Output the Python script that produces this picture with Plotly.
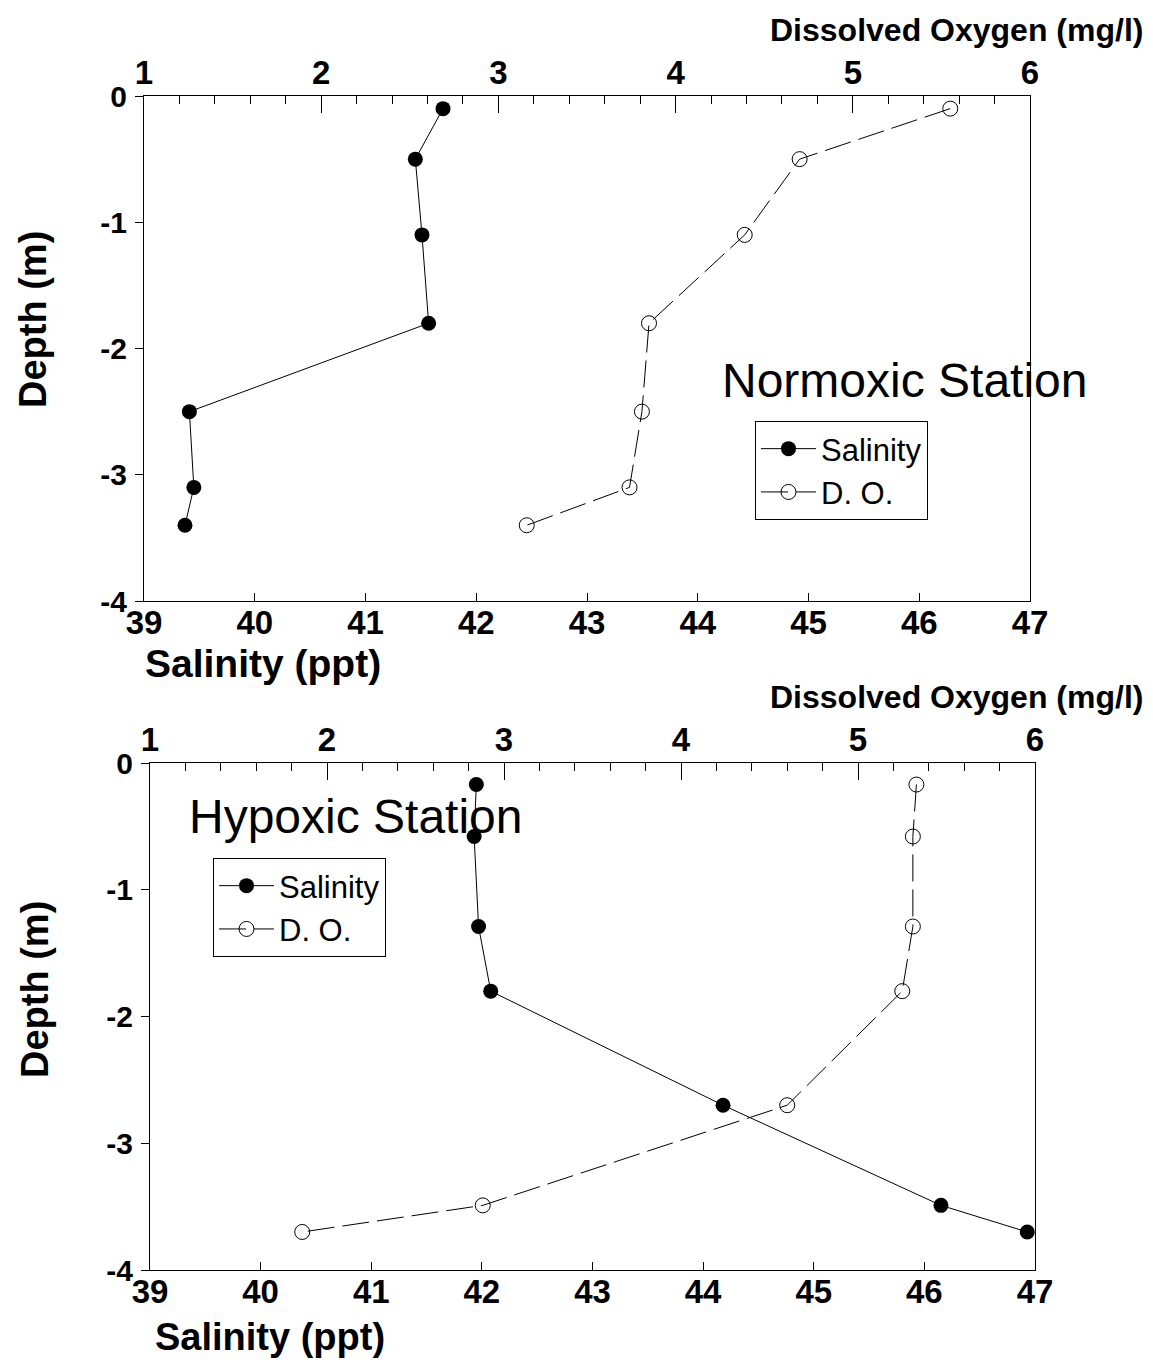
import plotly.graph_objects as go

W, H = 1153, 1364

# ---- Normoxic station data ----
norm_sal_depth = [-0.1, -0.5, -1.1, -1.8, -2.5, -3.1, -3.4]
norm_sal = [41.70, 41.45, 41.51, 41.57, 39.41, 39.45, 39.37]
norm_do_depth = [-0.1, -0.5, -1.1, -1.8, -2.5, -3.1, -3.4]
norm_do = [5.55, 4.70, 4.39, 3.85, 3.81, 3.74, 3.16]

# ---- Hypoxic station data ----
hyp_sal_depth = [-0.17, -0.58, -1.29, -1.8, -2.7, -3.49, -3.7]
hyp_sal = [41.95, 41.93, 41.97, 42.08, 44.18, 46.15, 46.93]
hyp_do_depth = [-0.17, -0.58, -1.29, -1.8, -2.7, -3.49, -3.7]
hyp_do = [5.33, 5.31, 5.31, 5.25, 4.60, 2.88, 1.86]

sal_range = [39, 47]
do_range = [1, 6]
depth_range = [-4, 0]
depth_ticks = [0, -1, -2, -3, -4]
depth_labels = ["0", "-1", "-2", "-3", "-4"]

FONT = "Liberation Sans, Arial, sans-serif"

def px_x(p):
    return p / W

def px_y(p):
    return 1 - p / H

fig = go.Figure()

sal_style = dict(mode="lines+markers", line=dict(color="black", width=1),
                 marker=dict(symbol="circle", size=15, color="black"))
do_style = dict(mode="lines+markers", line=dict(color="black", width=1, dash="27px,8px"),
                marker=dict(symbol="circle-open", size=15, color="black", line=dict(width=1, color="black")))

fig.add_trace(go.Scatter(x=norm_sal, y=norm_sal_depth, name="Salinity", xaxis="x", yaxis="y",
                         legend="legend", **sal_style))
fig.add_trace(go.Scatter(x=norm_do, y=norm_do_depth, name="D. O.", xaxis="x2", yaxis="y",
                         legend="legend", **do_style))
fig.add_trace(go.Scatter(x=hyp_sal, y=hyp_sal_depth, name="Salinity", xaxis="x3", yaxis="y2",
                         legend="legend2", **sal_style))
fig.add_trace(go.Scatter(x=hyp_do, y=hyp_do_depth, name="D. O.", xaxis="x4", yaxis="y2",
                         legend="legend2", **do_style))

tick_font_x = dict(family=FONT, size=33, color="black", weight="bold")
tick_font_y = dict(family=FONT, size=30, color="black", weight="bold")

def bottom_axis(domain, anchor):
    return dict(domain=domain, anchor=anchor, range=sal_range, dtick=1, tick0=39,
                ticks="inside", ticklen=8, tickcolor="black", tickwidth=1,
                showline=True, linecolor="black", linewidth=1, showgrid=False,
                zeroline=False, tickfont=tick_font_x, fixedrange=True,
                automargin=False, ticklabelstandoff=-8)

def top_axis(overlay, anchor):
    return dict(overlaying=overlay, anchor=anchor, side="top", range=do_range, dtick=1, tick0=1,
                ticks="inside", ticklen=17, tickcolor="black", tickwidth=1,
                minor=dict(dtick=0.2, ticks="inside", ticklen=8, tickcolor="black", tickwidth=1),
                showline=True, linecolor="black", linewidth=1, showgrid=False,
                zeroline=False, tickfont=tick_font_x, fixedrange=True,
                automargin=False, ticklabelstandoff=-2)

def left_axis(domain, anchor):
    return dict(domain=domain, anchor=anchor, range=depth_range,
                tickmode="array", tickvals=depth_ticks, ticktext=depth_labels,
                ticks="outside", ticklen=8, tickcolor="black", tickwidth=1,
                showline=True, linecolor="black", linewidth=1, mirror=True,
                showgrid=False, zeroline=False, tickfont=tick_font_y, fixedrange=True,
                automargin=False, ticklabelstandoff=2)

top_dom_x = [px_x(144), px_x(1030)]
top_dom_y = [px_y(601), px_y(96)]
bot_dom_x = [px_x(150), px_x(1035)]
bot_dom_y = [px_y(1270), px_y(763)]

legend_common = dict(xanchor="left", yanchor="top", bordercolor="black", borderwidth=1,
                     bgcolor="rgba(255,255,255,0)", font=dict(family=FONT, size=31, color="black"),
                     itemwidth=55, tracegroupgap=0, xref="paper", yref="paper")

fig.update_layout(
    width=W, height=H, autosize=False,
    margin=dict(l=0, r=0, t=0, b=0, pad=0, autoexpand=False),
    paper_bgcolor="white", plot_bgcolor="white",
    showlegend=True,
    xaxis=bottom_axis(top_dom_x, "y"),
    xaxis2=top_axis("x", "y"),
    yaxis=left_axis(top_dom_y, "x"),
    xaxis3=bottom_axis(bot_dom_x, "y2"),
    xaxis4=top_axis("x3", "y2"),
    yaxis2=left_axis(bot_dom_y, "x3"),
    legend=dict(x=px_x(755), y=px_y(421), **legend_common),
    legend2=dict(x=px_x(213), y=px_y(858), **legend_common),
)

def ann(text, x, y, size, xanchor="center", yanchor="middle", angle=0, bold=False):
    fig.add_annotation(text=text, x=px_x(x), y=px_y(y), xref="paper", yref="paper",
                       xanchor=xanchor, yanchor=yanchor, textangle=angle, showarrow=False,
                       font=dict(family=FONT, size=size, color="black",
                                 weight="bold" if bold else "normal"))

# Top panel titles
ann("Dissolved Oxygen (mg/l)", 1145, 30, 32, xanchor="right", bold=True)
ann("Salinity (ppt)", 143, 663, 39, xanchor="left", bold=True)
ann("Depth (m)", 33, 320, 38, angle=-90, bold=True)
ann("Normoxic Station", 904, 381, 48)

# Bottom panel titles
ann("Dissolved Oxygen (mg/l)", 1145, 697, 32, xanchor="right", bold=True)
ann("Salinity (ppt)", 153, 1337, 38, xanchor="left", bold=True)
ann("Depth (m)", 35, 990, 38, angle=-90, bold=True)
ann("Hypoxic Station", 356, 816, 48)

fig.write_html("out.html")
